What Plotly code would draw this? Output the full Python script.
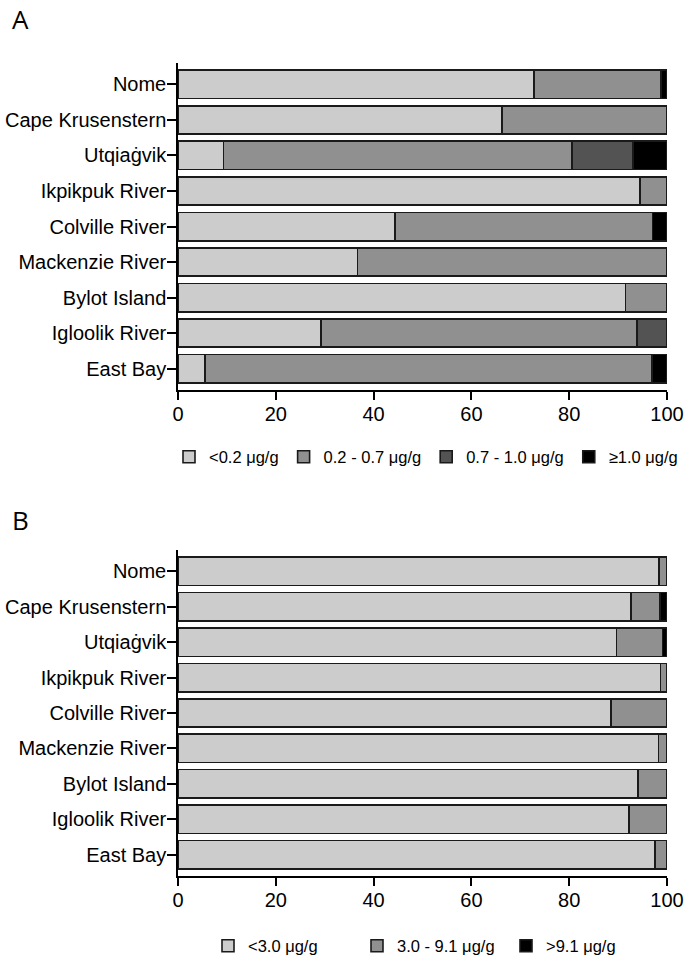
import plotly.graph_objects as go

sites = ["Nome", "Cape Krusenstern", "Utqiaġvik", "Ikpikpuk River", "Colville River",
         "Mackenzie River", "Bylot Island", "Igloolik River", "East Bay"]

# Panel A (% of samples per concentration class)
a_names = ["<0.2 μg/g", "0.2 - 0.7 μg/g", "0.7 - 1.0 μg/g", "≥1.0 μg/g"]
a_lt02 = [72.8, 66.2, 9.3, 94.5, 44.4, 36.7, 91.5, 29.2, 5.5]
a_02_07 = [26.0, 33.8, 71.3, 5.5, 52.6, 63.3, 8.5, 64.7, 91.4]
a_07_10 = [0.0, 0.0, 12.4, 0.0, 0.0, 0.0, 0.0, 6.1, 0.0]
a_ge10 = [1.2, 0.0, 7.0, 0.0, 3.0, 0.0, 0.0, 0.0, 3.1]

# Panel B
b_names = ["<3.0 μg/g", "3.0 - 9.1 μg/g", ">9.1 μg/g"]
b_lt30 = [98.4, 92.6, 89.7, 98.7, 88.5, 98.3, 94.1, 92.2, 97.6]
b_30_91 = [1.6, 6.0, 9.4, 1.3, 11.5, 1.7, 5.9, 7.8, 2.4]
b_gt91 = [0.0, 1.4, 0.9, 0.0, 0.0, 0.0, 0.0, 0.0, 0.0]

colors4 = ["#cccccc", "#909090", "#535353", "#000000"]
colors3 = ["#cccccc", "#909090", "#000000"]

FONT = "Liberation Sans, Arial, sans-serif"

fig = go.Figure()

for name, vals, col in zip(a_names, [a_lt02, a_02_07, a_07_10, a_ge10], colors4):
    fig.add_trace(go.Bar(
        y=sites, x=vals, name=name, orientation="h",
        marker=dict(color=col, line=dict(color="#1a1a1a", width=1.6)),
        xaxis="x", yaxis="y", legend="legend",
    ))

for name, vals, col in zip(b_names, [b_lt30, b_30_91, b_gt91], colors3):
    fig.add_trace(go.Bar(
        y=sites, x=vals, name=name, orientation="h",
        marker=dict(color=col, line=dict(color="#1a1a1a", width=1.6)),
        xaxis="x2", yaxis="y2", legend="legend2",
    ))

W, H = 685, 959
xdom = [178 / W, 667 / W]
ydomA = [1 - 390 / H, 1 - 63 / H]
ydomB = [1 - 876 / H, 1 - 550 / H]

xax = dict(range=[0, 100], tickvals=[0, 20, 40, 60, 80, 100], showgrid=False,
           zeroline=False, showline=True, linecolor="black", linewidth=1.5,
           ticks="outside", ticklen=8, tickwidth=1.5, tickcolor="black",
           automargin=False, ticklabelstandoff=-3,
           tickfont=dict(family=FONT, size=20, color="black"), fixedrange=True)
yax = dict(type="category", categoryorder="array", categoryarray=sites,
           range=[8.605, -0.605], showgrid=False, zeroline=False, showline=True,
           linecolor="black", linewidth=1.5, ticks="outside", ticklen=9,
           tickwidth=1.5, tickcolor="black", automargin=False, ticklabelstandoff=-3,
           tickfont=dict(family=FONT, size=20, color="black"), fixedrange=True)

fig.update_layout(
    width=W, height=H,
    margin=dict(l=0, r=0, t=0, b=0, autoexpand=False),
    paper_bgcolor="white", plot_bgcolor="white",
    barmode="stack", bargap=0.2,
    font=dict(family=FONT, color="black"),
    xaxis=dict(xax, domain=xdom, anchor="y"),
    yaxis=dict(yax, domain=ydomA, anchor="x"),
    xaxis2=dict(xax, domain=xdom, anchor="y2"),
    yaxis2=dict(yax, domain=ydomB, anchor="x2"),
    legend=dict(orientation="h", x=426 / W, xanchor="center",
                y=1 - 457 / H, yanchor="middle", font=dict(family=FONT, size=16.5),
                bgcolor="rgba(0,0,0,0)", traceorder="normal"),
    legend2=dict(orientation="h", x=431.5 / W, xanchor="center",
                 y=1 - 946 / H, yanchor="middle", font=dict(family=FONT, size=16.5),
                 bgcolor="rgba(0,0,0,0)", traceorder="normal",
                 entrywidth=104, entrywidthmode="pixels"),
    annotations=[
        dict(text="A", x=10 / W, y=1 - 19 / H, xref="paper", yref="paper",
             xanchor="left", yanchor="middle", showarrow=False,
             font=dict(family="Open Sans, sans-serif", size=26, color="black")),
        dict(text="B", x=10 / W, y=1 - 520 / H, xref="paper", yref="paper",
             xanchor="left", yanchor="middle", showarrow=False,
             font=dict(family="Open Sans, sans-serif", size=26, color="black")),
    ],
)

fig.write_html("out.html", config={"displayModeBar": False},
               post_script="document.body.style.margin='0px';")
